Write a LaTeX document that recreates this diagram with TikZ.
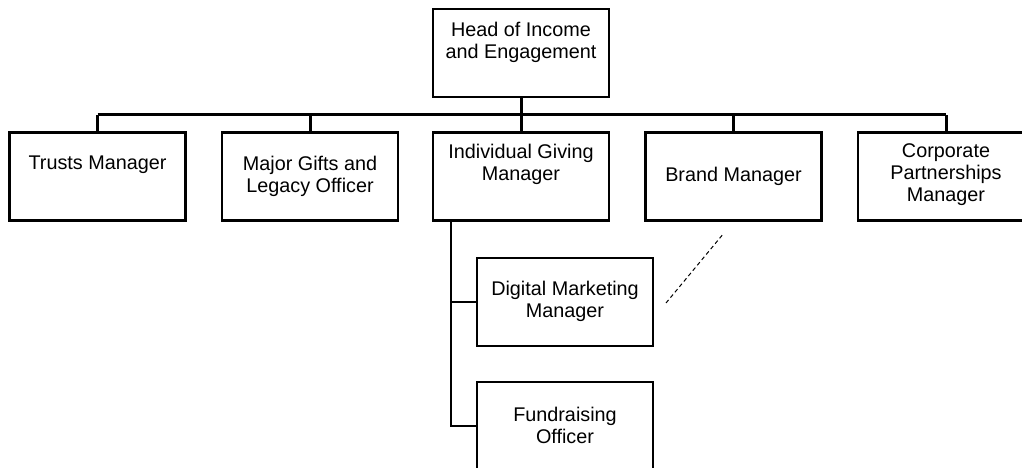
\documentclass[tikz,border=0pt]{standalone}
\usepackage{fontspec}
\setmainfont{Liberation Sans}
\begin{document}
\begin{tikzpicture}[x=1pt,y=-1pt,
  box/.style={draw=black,line width=2.4pt,minimum width=176pt,minimum height=88pt,inner sep=0pt},
  txt/.style={align=center,inner sep=0pt,font=\fontsize{19.8}{22}\selectfont},
  link/.style={draw=black,line width=3pt},
  sublink/.style={draw=black,line width=2.4pt},
  dotted link/.style={draw=black,line width=1pt,dash pattern=on 4pt off 3pt}]
\useasboundingbox (0,0) rectangle (1022,468);

% head of the team
\node[box] (head) at (521,53) {};
\node[txt] at (521,42) {Head of Income\\and Engagement};

% direct reports
\node[box] (tm) at (97.5,176.5) {};
\node[txt] at (97.5,165) {Trusts Manager};
\node[box] (mg) at (310,176.5) {};
\node[txt] at (310,176.5) {Major Gifts and\\Legacy Officer};
\node[box] (ig) at (521,176.5) {};
\node[txt] at (521,164.5) {Individual Giving\\Manager};
\node[box] (bm) at (733.5,176.5) {};
\node[txt] at (733.5,176.5) {Brand Manager};
\node[box] (cp) at (946,176.5) {};
\node[txt] at (946,175) {Corporate\\Partnerships\\Manager};

% second level under individual giving
\node[box] (dm) at (565,302) {};
\node[txt] at (565,301.5) {Digital Marketing\\Manager};
\node[box] (fo) at (565,426) {};
\node[txt] at (565,425.5) {Fundraising\\Officer};

% reporting lines
\coordinate (bus) at (0,115);
\draw[link] (head.south) -- (head.south |- bus);
\draw[link] (tm.north |- bus) -- (cp.north |- bus);
\foreach \n in {tm,mg,ig,bm,cp}
  \draw[link] (\n.north) -- (\n.north |- bus);

\coordinate (stem) at ([xshift=19pt]ig.south west);
\draw[sublink] (stem) |- (dm.west);
\draw[sublink] (stem) |- (fo.west);

% dotted line relationship
\coordinate (dotA) at (666,303);
\coordinate (dotB) at (724,233);
\draw[dotted link] (dotA) -- (dotB);
\end{tikzpicture}
\end{document}
